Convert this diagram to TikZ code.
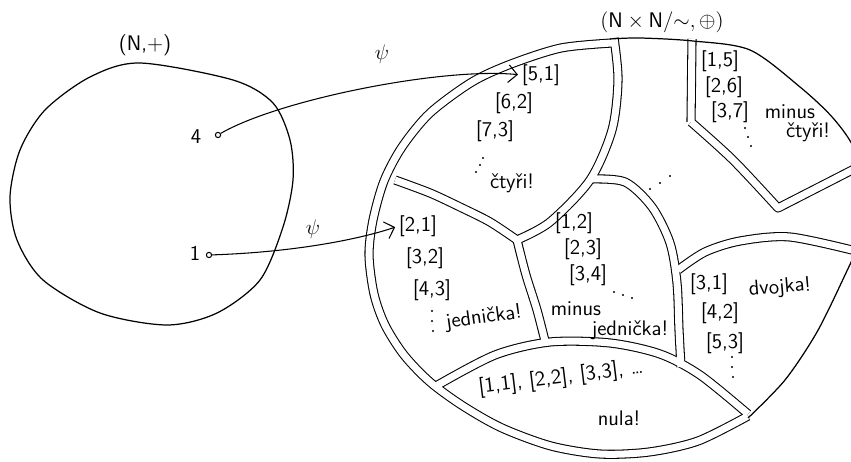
\documentclass[tikz,border=0pt]{standalone}
\usepackage{fontspec}
\usetikzlibrary{arrows.meta}
\tikzset{
  wallline/.style = {line width=5.2pt, line cap=butt, line join=round},
  wallgap/.style  = {wallline, white, line width=4.0pt},
  rim/.style      = {line width=0.7pt, line join=round},
  word/.style     = {font=\sffamily\large, inner sep=0pt},
  elem/.style     = {circle, draw, line width=0.6pt, inner sep=0pt, minimum size=3pt},
  map/.style      = {-{Straight Barb[length=5pt]}, line width=0.6pt, shorten >=2pt}
}
% all the double walls of N x N/~, drawn once black and once white
\newcommand{\classwalls}[1]{%
  \draw[#1] plot[smooth] coordinates {(612,43) (561,48) (511,64) (472,82) (430,113)
    (402,147) (384,181) (373,220) (369,255) (374,294) (385,325) (404,355) (430,382)
    (463,406) (502,428) (551,446) (600,454) (649,452) (698,441) (748,416)};
  \draw[#1] plot[smooth] coordinates {(614,38) (618,80) (612,130) (590,180) (550,222) (517,240)};
  \draw[#1] plot[smooth] coordinates {(395,180) (430,193) (460,207) (490,222) (517,240)};
  \draw[#1] plot[smooth] coordinates {(517,240) (526,275) (537,310) (546,345)};
  \draw[#1] plot[smooth] coordinates {(590,179) (625,182) (652,207) (670,243) (677,283) (679,330) (681,367)};
  \draw[#1] plot[smooth] coordinates {(436,386) (495,355) (550,342) (610,343) (660,354) (700,375) (748,414)};
  \draw[#1] plot[smooth] coordinates {(678,270) (705,252) (740,241) (790,237) (860,252)};
  \draw[#1] (692,39) -- (691,122) plot[smooth] coordinates {(691,122) (733,160) (778,208)} -- (860,166);
}

\begin{document}
\begin{tikzpicture}[x=0.02cm, y=-0.02cm]
  \useasboundingbox (0,0) rectangle (851,462);
  \clip (0,0) rectangle (851,462);

  % (N,+)
  \draw[rim] plot[smooth cycle] coordinates {(140,63) (233,80) (273,103) (290,140)
    (293,180) (283,227) (260,280) (217,313) (167,325) (100,313) (43,280) (17,240)
    (10,197) (20,150) (45,110) (90,77)};
  \node[word] (nat) at (145,45) {(N,+)};
  \node[elem] (ptfour) at (218,135) {};
  \node[word] (four) at (196,137) {4};
  \node[elem] (ptone) at (209,255) {};
  \node[word] (one) at (195,253) {1};

  % (N x N/~, +)
  \classwalls{wallline}
  \classwalls{wallgap}
  \draw[rim] plot[smooth] coordinates {(748,418) (785,380) (817,332) (845,275) (858,245)
    (870,200) (855,150) (833,118) (800,87) (750,50) (693,41) (640,38) (610,39)};
  \node[word] (quot) at (662,22) {$(\mathsf{N}\times\mathsf{N}/{\sim},\oplus)$};

  % ctyri
  \node[word] (c51) at (541,75) {[5,1]};
  \node[word] (c62) at (514,103) {[6,2]};
  \node[word] (c73) at (495,131) {[7,3]};
  \node[word] (t4) at (512,183) {čtyři!};
  % minus ctyri
  \node[word] (c15) at (720,61) {[1,5]};
  \node[word] (c26) at (724,87) {[2,6]};
  \node[word] (c37) at (730,112) {[3,7]};
  \node[word] (tm4a) at (790,112) {minus};
  \node[word] (tm4b) at (808,132) {čtyři!};
  % jednicka
  \node[word] (c21) at (418,226) {[2,1]};
  \node[word] (c32) at (425,258) {[3,2]};
  \node[word] (c43) at (432,290) {[4,3]};
  \node[word, rotate=8] (t1) at (484,318) {jednička!};
  % minus jednicka
  \node[word] (c12) at (574,223) {[1,2]};
  \node[word] (c23) at (583,249) {[2,3]};
  \node[word] (c34) at (588,275) {[3,4]};
  \node[word] (tm1a) at (576,309) {minus};
  \node[word] (tm1b) at (630,330) {jednička!};
  % dvojka
  \node[word] (c31) at (709,284) {[3,1]};
  \node[word] (c42) at (720,313) {[4,2]};
  \node[word] (c53) at (725,343) {[5,3]};
  \node[word, rotate=5] (t2) at (780,288) {dvojka!};
  % nula
  \node[word, rotate=7] (c0) at (561,378) {[1,1], [2,2], [3,3], \dots};
  \node[word] (t0) at (619,418) {nula!};

  % dots: and so on
  \foreach \p in {(483,158), (480,165), (476,172),   % ctyri
                  (745,128), (748,137), (751,146),   % minus ctyri
                  (432,311), (432,321), (433,331),   % jednicka
                  (614,292), (623,295), (632,298),   % minus jednicka
                  (732,357), (732,367), (733,377),   % dvojka
                  (650,189), (660,183), (670,176)}   % the rest
    \fill \p circle (0.7pt);

  % psi
  \draw[map] (ptfour) .. controls +(60,-35) and +(-80,-8) .. (c51.west);
  \node[word] (psia) at (382,54) {$\psi$};
  \draw[map] (ptone) .. controls +(90,-3) and +(-35,12) .. (c21.west);
  \node[word] (psib) at (313,229) {$\psi$};
\end{tikzpicture}
\end{document}
